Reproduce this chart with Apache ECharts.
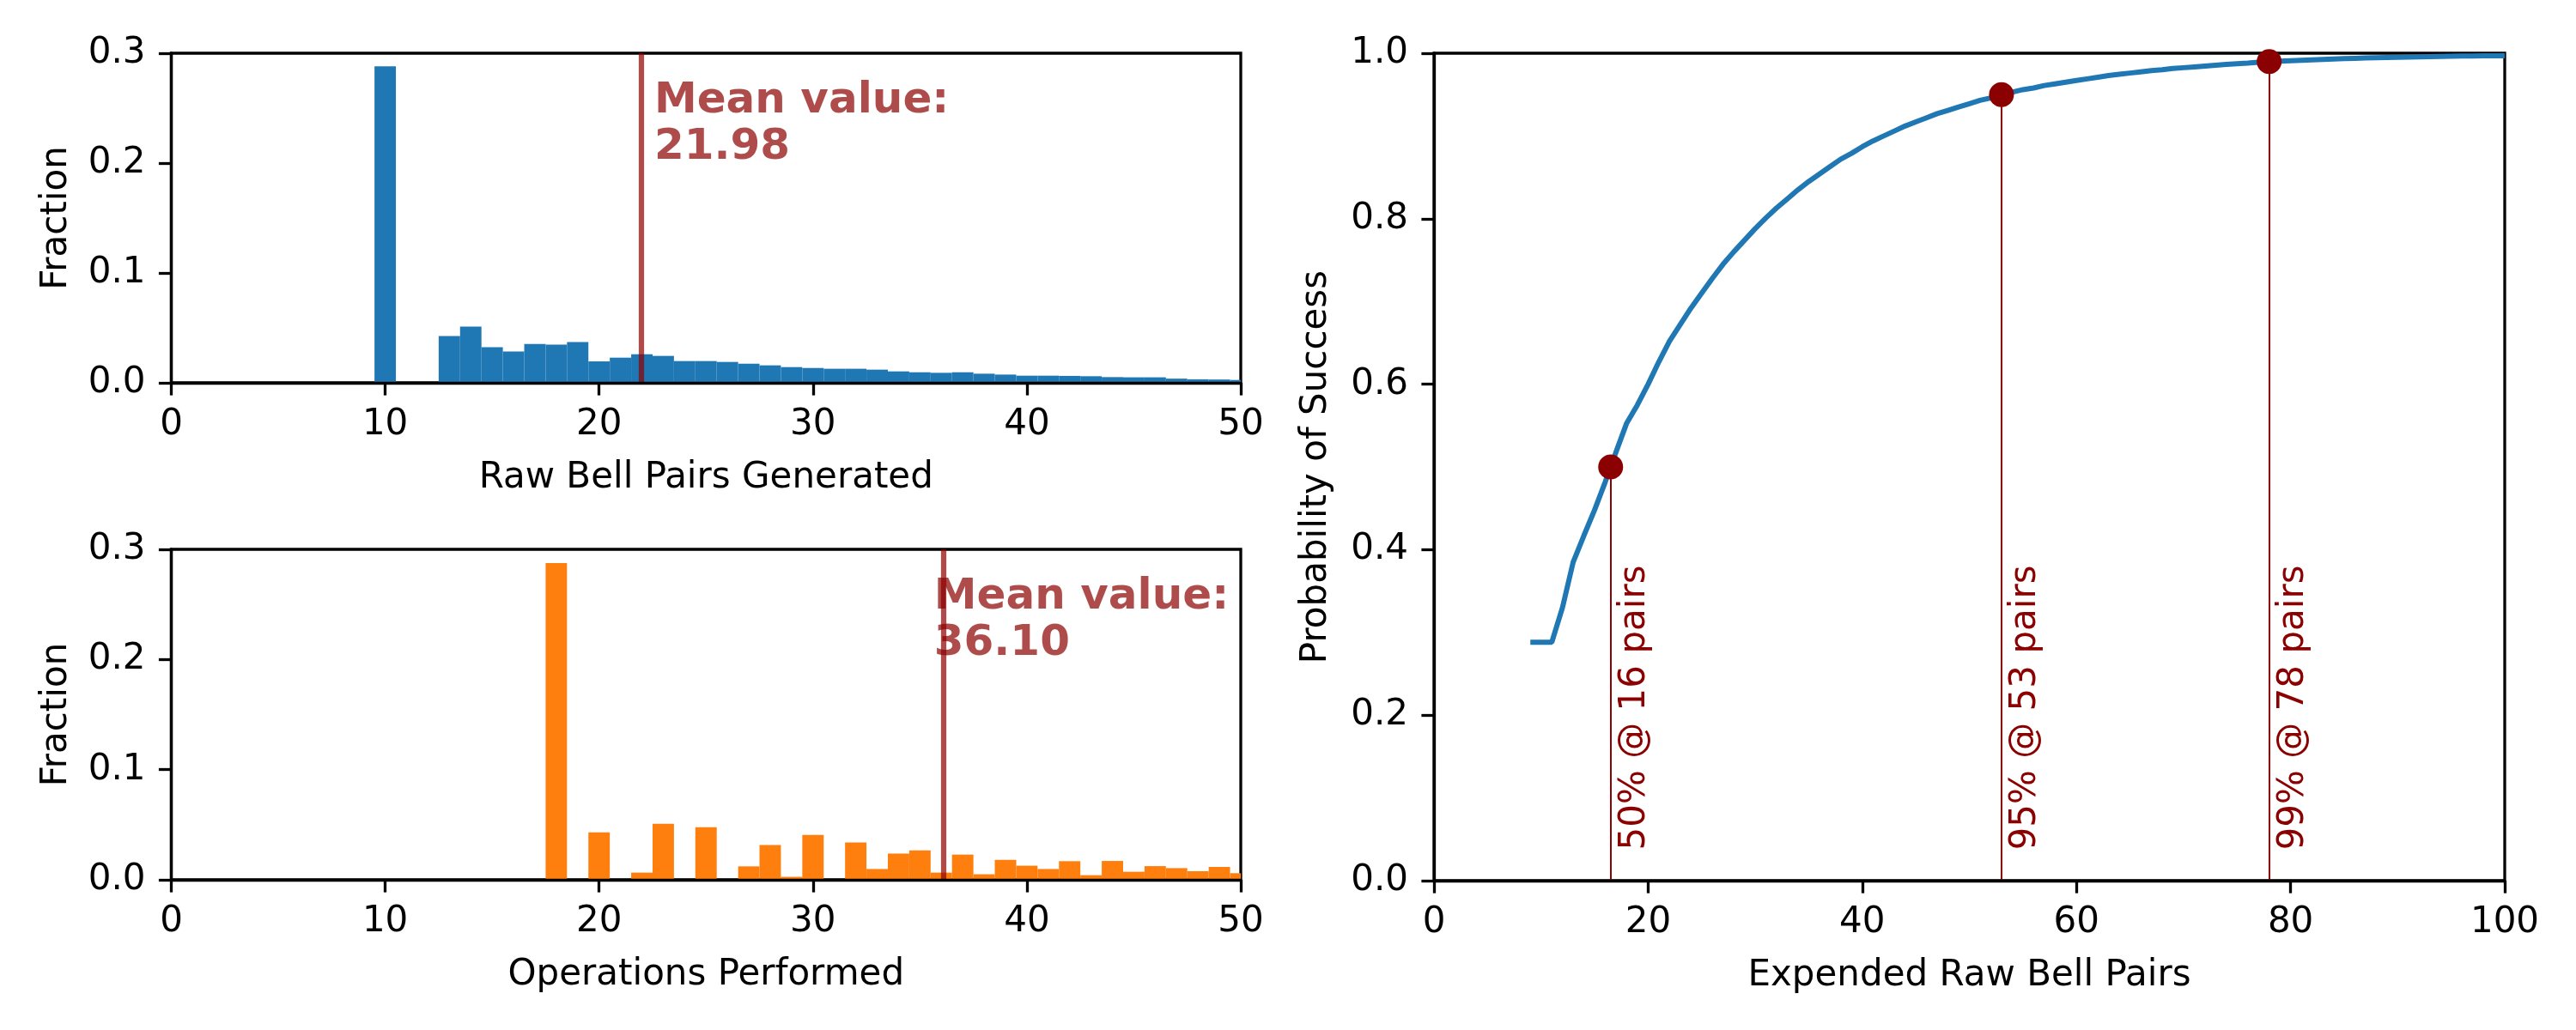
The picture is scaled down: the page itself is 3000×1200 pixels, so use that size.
<!DOCTYPE html>
<html>
<head>
<meta charset="utf-8">
<title>Bell pairs</title>
<script src="https://cdn.jsdelivr.net/npm/echarts@6/dist/echarts.min.js"></script>
<style>
  html, body { margin: 0; padding: 0; background: #fff; }
  #chart { width: 3000px; height: 1200px; }
</style>
</head>
<body>
<div id="chart"></div>
<script>
// histogram of raw bell pairs generated (bin centres, fraction)
const rawBins = [10, 13, 14, 15, 16, 17, 18, 19, 20, 21, 22, 23, 24, 25, 26, 27, 28, 29, 30,
  31, 32, 33, 34, 35, 36, 37, 38, 39, 40, 41, 42, 43, 44, 45, 46, 47, 48, 49, 50];
const rawFraction = [0.288, 0.0426, 0.0512, 0.0324, 0.0286, 0.0354, 0.0348, 0.0372, 0.0195, 0.0229,
  0.026, 0.0245, 0.0198, 0.0198, 0.019, 0.0174, 0.0159, 0.0143, 0.0135, 0.0128,
  0.0128, 0.012, 0.0104, 0.0096, 0.0091, 0.0096, 0.0083, 0.0075, 0.0065, 0.0065,
  0.0063, 0.006, 0.0052, 0.005, 0.005, 0.0038, 0.0032, 0.003, 0.0026];
const rawMean = 21.98;

// histogram of operations performed
const opsBins = [18, 20, 22, 23, 25, 27, 28, 29, 30, 32, 33, 34, 35, 36, 37, 38, 39, 40,
  41, 42, 43, 44, 45, 46, 47, 48, 49, 50];
const opsFraction = [0.2875, 0.0431, 0.0065, 0.0508, 0.0478, 0.0122, 0.0315, 0.0027, 0.0407, 0.0339,
  0.0098, 0.0238, 0.0267, 0.0065, 0.0229, 0.005, 0.0181, 0.0128, 0.0098, 0.0169,
  0.0042, 0.0171, 0.0073, 0.0124, 0.0106, 0.0078, 0.0117, 0.006];
const opsMean = 36.10;

// probability of success vs expended raw bell pairs
const cdfPairs = [9, 10, 11, 12, 13, 14, 15, 16, 17, 18, 19, 20, 21, 22, 23, 24, 25, 26, 27, 28,
  29, 30, 31, 32, 33, 34, 35, 36, 37, 38, 39, 40, 41, 42, 43, 44, 45, 46, 47, 48,
  49, 50, 51, 52, 53, 54, 55, 56, 57, 58, 59, 60, 61, 62, 63, 64, 65, 66, 67, 68,
  69, 70, 71, 72, 73, 74, 75, 76, 77, 78, 79, 80, 81, 82, 83, 84, 85, 86, 87, 88,
  89, 90, 91, 92, 93, 94, 95, 96, 97, 98, 99, 100];
const cdfProb = [0.288, 0.288, 0.288, 0.330, 0.385, 0.417, 0.448, 0.482, 0.518, 0.553,
  0.575, 0.600, 0.627, 0.652, 0.672, 0.692, 0.710, 0.728, 0.745, 0.760,
  0.774, 0.788, 0.801, 0.813, 0.824, 0.835, 0.845, 0.854, 0.863, 0.872,
  0.879, 0.887, 0.894, 0.900, 0.906, 0.912, 0.917, 0.922, 0.927, 0.931,
  0.935, 0.939, 0.943, 0.946, 0.950, 0.953, 0.956, 0.958, 0.961, 0.963,
  0.965, 0.967, 0.969, 0.971, 0.973, 0.9745, 0.976, 0.9775, 0.979, 0.980,
  0.9815, 0.9825, 0.9835, 0.9845, 0.9855, 0.9865, 0.9873, 0.988, 0.989, 0.990,
  0.9905, 0.991, 0.9915, 0.992, 0.9925, 0.993, 0.9934, 0.9938, 0.9942, 0.9945,
  0.9948, 0.9951, 0.9954, 0.9957, 0.9959, 0.9961, 0.9963, 0.9965, 0.9967, 0.9968,
  0.9969, 0.997];

const milestoneX = [16.5, 53.0, 78.0];
const milestoneY = [0.50, 0.95, 0.99];
const milestoneText = ['50% @ 16 pairs', '95% @ 53 pairs', '99% @ 78 pairs'];

const FONT = 'DejaVu Sans';
const FS = 42;
const DARKRED = '#8b0000';
const MEANCOL = 'rgba(139,0,0,0.7)';

var chart = echarts.init(document.getElementById('chart'));

function zip(a, b) {
  return a.map(function (v, i) { return [v, b[i]]; });
}

// one unit-wide histogram bar per bin, clipped to the grid
function histItem(params, api) {
  var c = api.value(0), v = api.value(1);
  if (!v) return null;
  var p0 = api.coord([c - 0.5, v]);
  var p1 = api.coord([c + 0.5, 0]);
  var cs = params.coordSys;
  var x0 = Math.max(p0[0], cs.x), x1 = Math.min(p1[0], cs.x + cs.width);
  if (x1 <= x0) return null;
  return {
    type: 'rect',
    shape: { x: x0, y: p0[1], width: x1 - x0, height: p1[1] - p0[1] },
    style: { fill: api.visual('color') }
  };
}

function xAxisOf(grid, max, interval, name) {
  return {
    type: 'value', gridIndex: grid, min: 0, max: max, interval: interval, z: 10,
    name: name, nameLocation: 'middle', nameGap: 90,
    nameTextStyle: { fontFamily: FONT, fontSize: FS, color: '#000' },
    axisLine: { show: true, onZero: false, lineStyle: { color: '#000', width: 3.3 } },
    axisTick: { show: true, length: 14.6, lineStyle: { color: '#000', width: 3.3 } },
    axisLabel: { fontFamily: FONT, fontSize: FS, color: '#000', margin: 28 },
    splitLine: { show: false }
  };
}

function yAxisOf(grid, max, interval, name, gap) {
  return {
    type: 'value', gridIndex: grid, min: 0, max: max, interval: interval, z: 10,
    name: name, nameLocation: 'middle', nameGap: gap,
    nameTextStyle: { fontFamily: FONT, fontSize: FS, color: '#000' },
    axisLine: { show: true, onZero: false, lineStyle: { color: '#000', width: 3.3 } },
    axisTick: { show: true, length: 14.6, lineStyle: { color: '#000', width: 3.3 } },
    axisLabel: {
      fontFamily: FONT, fontSize: FS, color: '#000', margin: 30,
      formatter: function (v) { return v.toFixed(1); }
    },
    splitLine: { show: false }
  };
}

function meanLine(value) {
  return {
    silent: true,
    symbol: ['none', 'none'],
    label: { show: false },
    lineStyle: { color: MEANCOL, width: 6.25, type: 'solid' },
    data: [{ xAxis: value }]
  };
}

var gridBox = { show: true, borderColor: '#000', borderWidth: 3.3, backgroundColor: 'transparent' };

var option = {
  backgroundColor: '#fff',
  animation: false,
  grid: [
    Object.assign({ left: 199.5, top: 62, width: 1245.5, height: 384 }, gridBox),
    Object.assign({ left: 199.5, top: 640, width: 1245.5, height: 385 }, gridBox),
    Object.assign({ left: 1670, top: 62, width: 1247, height: 964 }, gridBox)
  ],
  xAxis: [
    xAxisOf(0, 50, 10, 'Raw Bell Pairs Generated'),
    xAxisOf(1, 50, 10, 'Operations Performed'),
    xAxisOf(2, 100, 20, 'Expended Raw Bell Pairs')
  ],
  yAxis: [
    yAxisOf(0, 0.3, 0.1, 'Fraction', 112),
    yAxisOf(1, 0.3, 0.1, 'Fraction', 112),
    yAxisOf(2, 1.0, 0.2, 'Probability of Success', 116)
  ],
  series: [
    {
      type: 'custom', xAxisIndex: 0, yAxisIndex: 0,
      renderItem: histItem, itemStyle: { color: '#1f77b4' },
      data: zip(rawBins, rawFraction),
      markLine: meanLine(rawMean)
    },
    {
      type: 'custom', xAxisIndex: 1, yAxisIndex: 1,
      renderItem: histItem, itemStyle: { color: '#ff7f0e' },
      data: zip(opsBins, opsFraction),
      markLine: meanLine(opsMean)
    },
    {
      type: 'line', xAxisIndex: 2, yAxisIndex: 2, z: 3,
      showSymbol: false, symbol: 'none',
      lineStyle: { color: '#1f77b4', width: 6 },
      data: zip(cdfPairs, cdfProb)
    },
    {
      type: 'scatter', xAxisIndex: 2, yAxisIndex: 2, z: 4,
      symbol: 'circle', symbolSize: 29,
      itemStyle: { color: DARKRED, opacity: 1 },
      data: zip(milestoneX, milestoneY),
      markLine: {
        silent: true,
        symbol: ['none', 'none'],
        label: { show: false },
        lineStyle: { color: DARKRED, width: 2, type: 'solid', opacity: 1 },
        data: milestoneX.map(function (x, i) {
          return [{ coord: [x, 0] }, { coord: [x, milestoneY[i]] }];
        })
      }
    }
  ]
};

chart.setOption(option);

// text annotations, placed through the axes once the layout exists
var notes = [];
[[0, rawMean, 22.74], [1, opsMean, 35.82]].forEach(function (m) {
  var p = chart.convertToPixel({ gridIndex: m[0] }, [m[2], 0.271]);
  notes.push({
    type: 'text', z: 20,
    x: p[0] - 4, y: p[1] - 8,
    style: {
      text: 'Mean value:\n' + m[1].toFixed(2),
      fontFamily: FONT, fontSize: 50, fontWeight: 'bold', lineHeight: 54,
      fill: MEANCOL, align: 'left', verticalAlign: 'top'
    }
  });
});
milestoneX.forEach(function (x, i) {
  var p = chart.convertToPixel({ gridIndex: 2 }, [x + 1, 0.04]);
  notes.push({
    type: 'text', z: 20,
    x: p[0] - 5, y: p[1] + 3,
    rotation: Math.PI / 2,
    style: {
      text: milestoneText[i],
      fontFamily: FONT, fontSize: FS,
      fill: DARKRED, align: 'left', verticalAlign: 'top'
    }
  });
});
chart.setOption({ graphic: notes });
</script>
</body>
</html>
